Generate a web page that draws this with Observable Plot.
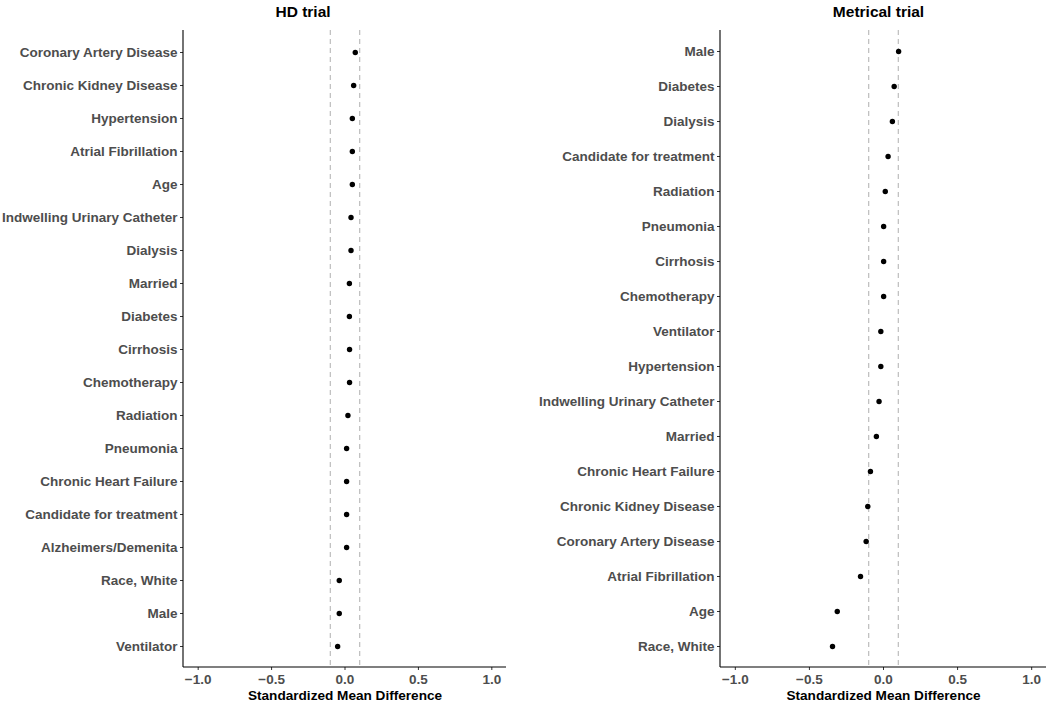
<!DOCTYPE html>
<html>
<head>
<meta charset="utf-8">
<script src="https://cdn.jsdelivr.net/npm/d3@7"></script>
<script src="https://cdn.jsdelivr.net/npm/@observablehq/plot@0.6"></script>
<style>
  html, body { margin: 0; padding: 0; background: #fff; }
  #wrap { display: flex; flex-direction: row; width: 1050px; height: 705px; }
</style>
</head>
<body>
<div id="wrap"></div>
<script>
// ---- Data ----
const hdTitle = "HD trial";
const hdLabels = [
  "Coronary Artery Disease", "Chronic Kidney Disease", "Hypertension",
  "Atrial Fibrillation", "Age", "Indwelling Urinary Catheter", "Dialysis",
  "Married", "Diabetes", "Cirrhosis", "Chemotherapy", "Radiation",
  "Pneumonia", "Chronic Heart Failure", "Candidate for treatment",
  "Alzheimers/Demenita", "Race, White", "Male", "Ventilator"
];
const hdValues = [
  0.070, 0.059, 0.050, 0.050, 0.050, 0.041, 0.041,
  0.030, 0.030, 0.031, 0.031, 0.020,
  0.011, 0.011, 0.011, 0.011, -0.039, -0.039, -0.050
];

const metTitle = "Metrical trial";
const metLabels = [
  "Male", "Diabetes", "Dialysis", "Candidate for treatment", "Radiation",
  "Pneumonia", "Cirrhosis", "Chemotherapy", "Ventilator", "Hypertension",
  "Indwelling Urinary Catheter", "Married", "Chronic Heart Failure",
  "Chronic Kidney Disease", "Coronary Artery Disease", "Atrial Fibrillation",
  "Age", "Race, White"
];
const metValues = [
  0.102, 0.072, 0.060, 0.031, 0.012,
  0.001, 0.001, 0.001, -0.018, -0.018,
  -0.030, -0.048, -0.088,
  -0.106, -0.117, -0.155,
  -0.312, -0.344
];

const xTicks = [-1, -0.5, 0, 0.5, 1];
const xDomain = [-1.1, 1.1];
const thresholds = [-0.1, 0.1];
const xTitle = "Standardized Mean Difference";

// ---- Drawing ----
const FONT = "'Liberation Sans', Arial, Helvetica, sans-serif";

function axisLines(index, scales, values, dims) {
  const g = d3.create("svg:g");
  g.append("line")
    .attr("x1", dims.marginLeft)
    .attr("x2", dims.width - dims.marginRight)
    .attr("y1", dims.height - dims.marginBottom)
    .attr("y2", dims.height - dims.marginBottom)
    .attr("stroke", "#000")
    .attr("stroke-width", 1.1);
  g.append("line")
    .attr("x1", dims.marginLeft)
    .attr("x2", dims.marginLeft)
    .attr("y1", dims.marginTop)
    .attr("y2", dims.height - dims.marginBottom)
    .attr("stroke", "#000")
    .attr("stroke-width", 1.1);
  return g.node();
}

function panel(title, titleDx, labels, values, width, mLeft, mRight) {
  const data = labels.map((label, i) => ({label, smd: values[i]}));
  return Plot.plot({
    width: width,
    height: 705,
    marginTop: 30,
    marginBottom: 38,
    marginLeft: mLeft,
    marginRight: mRight,
    style: {fontFamily: FONT, background: "#fff", overflow: "visible"},
    x: {domain: xDomain, ticks: xTicks, tickFormat: d3.format(".1f"), label: null},
    y: {type: "point", domain: labels, padding: 0.6, label: null},
    marks: [
      Plot.ruleX(thresholds, {stroke: "#BDBDBD", strokeWidth: 1.2, strokeDasharray: "5,4"}),
      Plot.axisY({tickSize: 3, tickPadding: 3, stroke: "#333", fill: "#4D4D4D",
                  fontSize: 13.5, fontWeight: "bold", label: null}),
      Plot.axisX({tickSize: 3, tickPadding: 4, stroke: "#333", fill: "#4D4D4D",
                  fontSize: 13.5, fontWeight: "bold", label: null}),
      axisLines,
      Plot.dot(data, {x: "smd", y: "label", r: 2.7, fill: "#000", stroke: null}),
      Plot.text([title], {frameAnchor: "top", dx: titleDx, dy: -18, fontSize: 15.5, fontWeight: "bold",
                          fill: "#000", lineAnchor: "middle"}),
      Plot.text([xTitle], {frameAnchor: "bottom", dy: 28, fontSize: 13.6, fontWeight: "bold",
                           fill: "#000", lineAnchor: "middle"})
    ]
  });
}

const wrap = document.getElementById("wrap");
wrap.appendChild(panel(hdTitle, -42, hdLabels, hdValues, 525, 183, 19));
wrap.appendChild(panel(metTitle, -5, metLabels, metValues, 525, 195, 4));
</script>
</body>
</html>
